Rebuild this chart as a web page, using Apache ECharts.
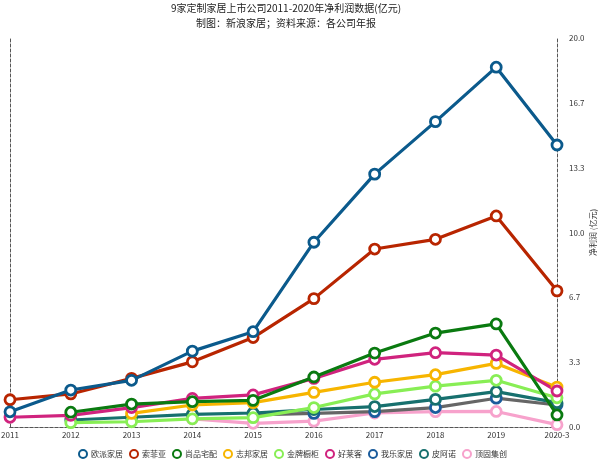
<!DOCTYPE html>
<html><head><meta charset="utf-8">
<script src="https://cdn.jsdelivr.net/npm/echarts@6/dist/echarts.min.js"></script>
<style>html,body{margin:0;padding:0;background:#fff}#c{width:600px;height:459px}</style>
</head><body><div id="c"></div>
<script>
const categories = ['2011','2012','2013','2014','2015','2016','2017','2018','2019','2020-3'];
const oppein   = [0.78, 1.9, 2.4, 3.9, 4.9, 9.5, 13.0, 15.7, 18.5, 14.5];
const sofia    = [1.4, 1.7, 2.5, 3.35, 4.6, 6.6, 9.15, 9.65, 10.85, 7.0];
const shangpin = [null, 0.76, 1.18, 1.3, 1.37, 2.57, 3.8, 4.83, 5.3, 0.62];
const zbom     = [null, null, 0.7, 1.13, 1.25, 1.78, 2.3, 2.69, 3.27, 2.05];
const goldenH  = [null, 0.22, 0.27, 0.42, 0.48, 1.0, 1.7, 2.1, 2.4, 1.5];
const holike   = [0.5, 0.6, 1.0, 1.47, 1.65, 2.5, 3.48, 3.82, 3.7, 1.85];
const wole     = [null, null, null, null, 0.62, 0.7, 0.79, 1.0, 1.48, 1.13];
const piano    = [null, 0.36, 0.5, 0.65, 0.72, 0.9, 1.05, 1.42, 1.82, 1.25];
const topstrong= [null, null, null, 0.42, 0.19, 0.3, 0.72, 0.79, 0.8, 0.12];
const yTicks = [0, 20];

const names = ['欧派家居','索菲亚','尚品宅配','志邦家居','金牌橱柜','好莱客','我乐家居','皮阿诺','顶固集创'];
const datas = [oppein, sofia, shangpin, zbom, goldenH, holike, wole, piano, topstrong];
const colors = ['#0b5a8c','#b82500','#0a7a10','#f7b500','#88ee55','#d0237e','#1b5c9c','#17706e','#f7a2cc'];
const lineColors = ['#0b5a8c','#b82500','#0a7a10','#f7b500','#88ee55','#d0237e','#666666','#17706e','#f7a2cc'];
const zs = [9,8,7,6,5,6,3,4,2];

const font = '"Noto Sans CJK SC", "Noto Sans", sans-serif';
const chart = echarts.init(document.getElementById('c'));
const dash = {color:'#555', width:1, type:[3,2]};
chart.setOption({
  animation:false,
  title:{
    text:'9家定制家居上市公司2011-2020年净利润数据(亿元)',
    subtext:'制图：新浪家居；资料来源：各公司年报',
    left:286, textAlign:'center', top:2, itemGap:3, padding:0,
    textStyle:{fontFamily:font, fontSize:10, fontWeight:'normal', color:'#222', lineHeight:12},
    subtextStyle:{fontFamily:font, fontSize:10, color:'#222', lineHeight:12}
  },
  legend:{
    data:names, top:449, left:78, icon:'circle', itemWidth:8, itemHeight:8, itemGap:6, padding:0,
    itemStyle:{color:'#fff', borderWidth:2},
    textStyle:{fontFamily:font, fontSize:8, color:'#333', padding:[0,0,0,-1]}
  },
  grid:{left:10, right:43, top:38, bottom:32, containLabel:false, outerBoundsMode:'none'},
  xAxis:[{
    type:'category', data:categories, boundaryGap:false,
    axisLine:{lineStyle:dash}, axisTick:{show:false},
    axisLabel:{fontFamily:font, fontSize:8, color:'#333', margin:4}
  },{
    type:'category', data:categories, boundaryGap:false, position:'top',
    axisLine:{lineStyle:dash}, axisTick:{show:false}, axisLabel:{show:false}
  }],
  yAxis:[{
    type:'value', position:'right', min:yTicks[0], max:yTicks[1], interval:(yTicks[1]-yTicks[0])/6,
    axisLine:{show:true, lineStyle:dash}, axisTick:{show:false}, splitLine:{show:false},
    axisLabel:{fontFamily:font, fontSize:8, color:'#333', margin:12, formatter:v=>v.toFixed(1)},
    name:'净利润 (亿元)', nameLocation:'middle', nameGap:32, nameMoveOverlap:false,
    nameTextStyle:{fontFamily:font, fontSize:8, color:'#333'}
  },{
    type:'value', position:'left', min:yTicks[0], max:yTicks[1],
    axisLine:{show:true, lineStyle:dash}, axisTick:{show:false}, splitLine:{show:false}, axisLabel:{show:false}
  }],
  series: names.map((n,i)=>({
    name:n, type:'line', data:datas[i], z:zs[i],
    symbol:'circle', symbolSize:10, showAllSymbol:true,
    lineStyle:{color:lineColors[i], width:3.2},
    itemStyle:{color:'#fff', borderColor:colors[i], borderWidth:2.8},
    emphasis:{disabled:true}
  }))
});
</script></body></html>
